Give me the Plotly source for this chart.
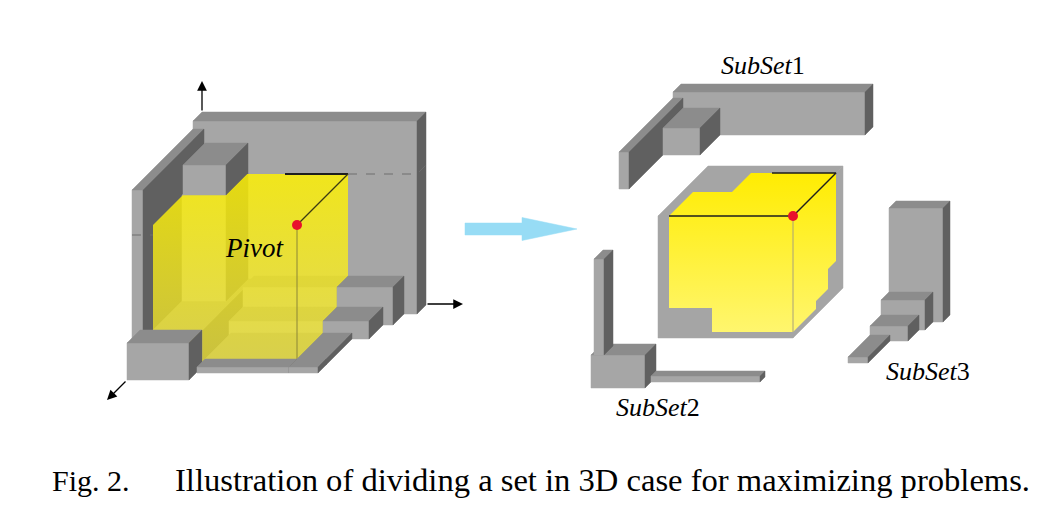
import plotly.graph_objects as go

# Oblique drawing: depth z recedes up and to the right at 45 degrees, 1 px per unit.
LEFT_ORIGIN = (202, 305)
RIGHT_ORIGIN = (708, 288)

FRONT = "#a6a6a6"
TOP = "#8c8c8c"
SIDE = "#606060"
CORE = "#a5a5a5"
SERIF = "Liberation Serif, Times New Roman, serif"

# blocks are (x0, x1, y0, y1, z0, z1)
# left picture: parts of the set that lie behind / inside the pivot's box
left_inner = [
    (0, 224, 0, 193, 0, 9),       # back wall
    (0, 11, 0, 185, 9, 70),       # left wall
    (11, 61, 0, 35, 9, 60),       # low left step
    (61, 155, 0, 38, 9, 20),      # first floor step
    (61, 155, 0, 18, 20, 34),     # second floor step
    (63, 155, 0, 6, 34, 60),      # floor plate
    (11, 55, 35, 141, 9, 31),     # column under the top block
]
# parts that stay in front of the yellow region
left_outer = [
    (12, 55, 141, 171, 9, 31),    # top block
    (155, 211, 0, 38, 9, 20),
    (155, 201, 0, 18, 20, 34),
    (155, 184, 0, 6, 34, 60),
    (0, 62, 0, 37, 62, 75),       # front left block
    (63, 155, 0, 6, 60, 68),
    (155, 184, 0, 6, 60, 68),
]
left_pivot_box = (11, 155, 0, 140, 9, 60)
left_pivot = (155, 140, 60)

# right picture: the split
subset1 = [
    (-27, 165, 161, 204, 0, 8),
    (-27, -17, 161, 198, 8, 62),
    (-17, 20, 161, 188, 8, 28),
]
core_box = (0, 135, 0, 122, 0, 50)
subset2 = [
    (-68, -14, -51, -18, 38, 49),
    (-65, -55, -18, 78, 40, 49),
    (-8, 101, -45, -39, 44, 49),
]
subset3 = [
    (188, 242, -27, 87, 0, 7),
    (188, 232, -27, 3, 7, 15),
    (188, 226, -27, -12, 15, 26),
    (188, 208, -27, -21, 26, 48),
]
right_pivot = (135, 122, 50)
# yellow faces of the dominated region inside the core box
yellow_front = [(11, 30, 50), (11, 122, 50), (135, 122, 50), (135, 6, 50), (54, 6, 50), (54, 30, 50)]
yellow_top = [(11, 122, 50), (11, 122, 26), (50, 122, 26), (50, 122, 7), (135, 122, 7), (135, 122, 50)]
yellow_side = [(135, 122, 50), (135, 122, 7), (135, 34, 7), (135, 34, 15), (135, 14, 15),
               (135, 14, 27), (135, 6, 27), (135, 6, 50)]

left_axes = [((0, 193, 0), (0, 224, 0)), ((224, 1, 0), (261, 1, 0)), ((0, 0, 75), (0, 0, 95))]


def proj(origin, p):
    x, y, z = p
    return origin[0] + x - z, origin[1] - y + z


def polygon(fig, origin, pts, color, gradient=None):
    xy = [proj(origin, p) for p in pts]
    xy.append(xy[0])
    kw = dict(x=[a for a, b in xy], y=[b for a, b in xy], mode="lines", fill="toself",
              fillcolor=color, hoverinfo="skip", showlegend=False)
    if gradient:
        kw["fillgradient"] = gradient
        kw["line"] = dict(width=0)
    else:
        kw["line"] = dict(color=color, width=0.5)
    fig.add_trace(go.Scatter(**kw))


def add_box(fig, origin, b, colors=(FRONT, TOP, SIDE)):
    x0, x1, y0, y1, z0, z1 = b
    front = [(x0, y0, z1), (x1, y0, z1), (x1, y1, z1), (x0, y1, z1)]
    top = [(x0, y1, z1), (x1, y1, z1), (x1, y1, z0), (x0, y1, z0)]
    side = [(x1, y0, z1), (x1, y0, z0), (x1, y1, z0), (x1, y1, z1)]
    for face, c in zip((front, top, side), colors):
        polygon(fig, origin, face, c)


def add_line(fig, origin, pts, color, width, dash="solid"):
    xy = [proj(origin, p) for p in pts]
    fig.add_trace(go.Scatter(x=[a for a, b in xy], y=[b for a, b in xy], mode="lines",
                             line=dict(color=color, width=width, dash=dash),
                             hoverinfo="skip", showlegend=False))


def add_dot(fig, origin, p):
    x, y = proj(origin, p)
    fig.add_trace(go.Scatter(x=[x], y=[y], mode="markers",
                             marker=dict(color="#e8102c", size=10), hoverinfo="skip", showlegend=False))


fig = go.Figure()

# ---- left: the set and the pivot's region
for b in left_inner:
    add_box(fig, LEFT_ORIGIN, b)

x0, x1, y0, y1, z0, z1 = left_pivot_box
hull = [(x0, y0, z1), (x1, y0, z1), (x1, y0, z0), (x1, y1, z0), (x0, y1, z0), (x0, y1, z1)]
polygon(fig, LEFT_ORIGIN, hull, "rgba(252,240,10,0.78)",
        gradient=dict(type="vertical", start=170, stop=370,
                      colorscale=[[0, "rgba(255,242,0,0.84)"], [1, "rgba(250,238,50,0.68)"]]))

add_line(fig, LEFT_ORIGIN, [(0, 140, 70), (21, 140, 70)], "#6e6e6e", 1, "dash")
add_line(fig, LEFT_ORIGIN, [(155, 140, 9), (224, 140, 9), (224, 140, 0)], "#6e6e6e", 1, "dash")
add_line(fig, LEFT_ORIGIN, [(92, 140, 9), (155, 140, 9)], "#1e1e1e", 2)
add_line(fig, LEFT_ORIGIN, [left_pivot, (155, 140, 9)], "#3c3a14", 1.2)
add_line(fig, LEFT_ORIGIN, [left_pivot, (155, 0, 60)], "#8c8636", 1)

for b in left_outer:
    add_box(fig, LEFT_ORIGIN, b)
add_dot(fig, LEFT_ORIGIN, left_pivot)

# ---- right: the three subsets around the pivot's box
for b in subset1:
    add_box(fig, RIGHT_ORIGIN, b)
add_box(fig, RIGHT_ORIGIN, core_box, colors=(CORE, CORE, CORE))
grad = dict(type="vertical", start=170, stop=335,
            colorscale=[[0, "rgb(255,236,0)"], [1, "rgb(255,246,112)"]])
for face in (yellow_top, yellow_side, yellow_front):
    polygon(fig, RIGHT_ORIGIN, face, "rgb(255,240,40)", gradient=grad)
add_line(fig, RIGHT_ORIGIN, [right_pivot, (135, 6, 50)], "#a8a27a", 1)
add_line(fig, RIGHT_ORIGIN, [(11, 122, 50), right_pivot, (135, 122, 7), (71, 122, 7)], "#1e1e1e", 1.4)
add_dot(fig, RIGHT_ORIGIN, right_pivot)
for b in subset2 + subset3:
    add_box(fig, RIGHT_ORIGIN, b)

# ---- big arrow between the two pictures
arrow_tail, arrow_neck, arrow_tip, arrow_mid = 465, 522, 577, 229
shaft_half, head_half = 6, 11.5
fig.add_trace(go.Scatter(
    x=[arrow_tail, arrow_neck, arrow_neck, arrow_tip, arrow_neck, arrow_neck, arrow_tail, arrow_tail],
    y=[arrow_mid - shaft_half, arrow_mid - shaft_half, arrow_mid - head_half, arrow_mid,
       arrow_mid + head_half, arrow_mid + shaft_half, arrow_mid + shaft_half, arrow_mid - shaft_half],
    mode="lines", fill="toself", fillcolor="#97dcf5", line=dict(color="#97dcf5", width=0.5),
    hoverinfo="skip", showlegend=False))

# axis arrows of the left picture
for tail, head in left_axes:
    tx, ty = proj(LEFT_ORIGIN, tail)
    hx, hy = proj(LEFT_ORIGIN, head)
    fig.add_annotation(x=hx, y=hy, ax=tx, ay=ty, xref="x", yref="y", axref="x", ayref="y",
                       text="", showarrow=True, arrowhead=2, arrowsize=1.5, arrowwidth=1.3,
                       arrowcolor="black")

labels = [
    ("<i>Pivot</i>", 254, 248, 27),
    ("<i>SubSet</i>1", 763, 65, 26),
    ("<i>SubSet</i>2", 658, 407, 26),
    ("<i>SubSet</i>3", 928, 371, 26),
]
for text, x, y, size in labels:
    fig.add_annotation(x=x, y=y, xref="x", yref="y", text=text, showarrow=False,
                       xanchor="center", yanchor="middle",
                       font=dict(family=SERIF, size=size, color="black"))

fig.add_annotation(x=50, y=480, xref="x", yref="y", text="Fig. 2.", showarrow=False,
                   xanchor="left", yanchor="middle", font=dict(family=SERIF, size=30, color="black"))
fig.add_annotation(x=173, y=480, xref="x", yref="y",
                   text="Illustration of dividing a set in 3D case for maximizing problems.",
                   showarrow=False, xanchor="left", yanchor="middle",
                   font=dict(family=SERIF, size=32.6, color="black"))

fig.update_xaxes(range=[0, 1064], visible=False, fixedrange=True)
fig.update_yaxes(range=[512, 0], visible=False, fixedrange=True)
fig.update_layout(width=1064, height=512, autosize=False,
                  margin=dict(l=0, r=0, t=0, b=0),
                  paper_bgcolor="white", plot_bgcolor="white")

fig.write_html("out.html", config={"displayModeBar": False},
               post_script="document.body.style.margin='0';")
